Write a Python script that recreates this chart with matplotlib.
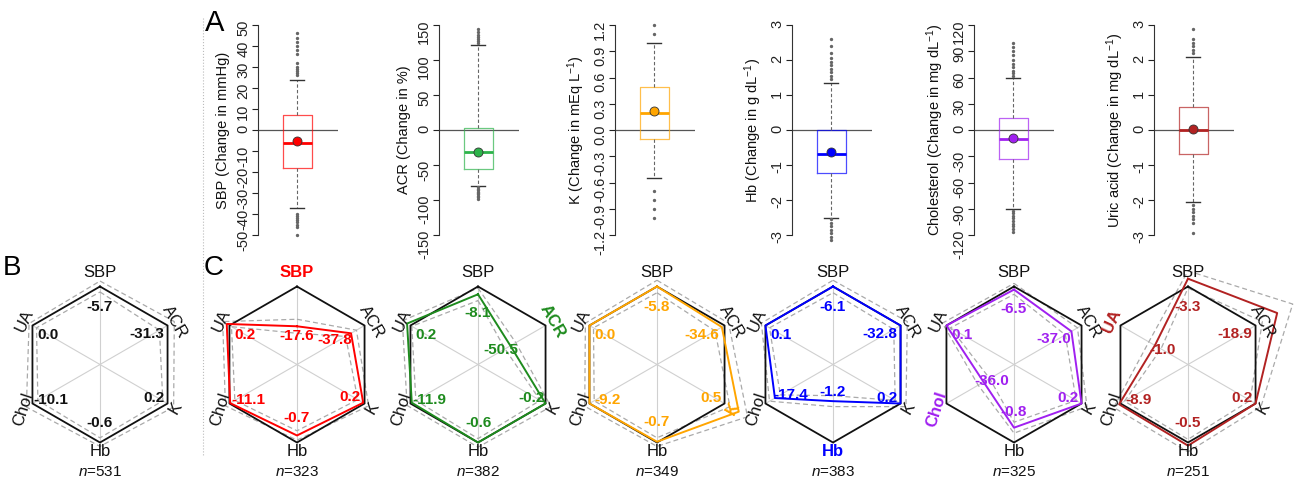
import numpy as np
import matplotlib
matplotlib.use('Agg')
import matplotlib.pyplot as plt
from matplotlib.lines import Line2D

plt.rcParams['font.family'] = ['Liberation Sans', 'DejaVu Sans']
plt.rcParams['mathtext.fontset'] = 'custom'
plt.rcParams['mathtext.rm'] = 'Liberation Sans'
plt.rcParams['mathtext.it'] = 'Liberation Sans:italic'
plt.rcParams['mathtext.bf'] = 'Liberation Sans:bold'
plt.rcParams['mathtext.default'] = 'regular'

# ------------------------- data -------------------------
variables = ['SBP', 'ACR', 'K', 'Hb', 'Chol', 'UA']
box_ylabels = ['SBP (Change in mmHg)', 'ACR (Change in %)',
               r'K (Change in mEq L$^{-1}$)', r'Hb (Change in g dL$^{-1}$)',
               r'Cholesterol (Change in mg dL$^{-1}$)', r'Uric acid (Change in mg dL$^{-1}$)']
box_colors = ['#FF0000', '#2DB34A', '#FFA500', '#0000FF', '#A020F0', '#B22222']
radar_colors = ['#FF0000', '#1E8B1E', '#FFA500', '#0000FF', '#A020F0', '#B22222']

box_q1 = [-18, -55, -0.10, -1.22, -33, -0.69]
box_med = [-6, -31, 0.20, -0.69, -10, 0.00]
box_q3 = [7, 3, 0.49, 0.00, 14, 0.67]
box_whislo = [-37, -80, -0.55, -2.50, -90, -2.06]
box_whishi = [24, 122, 1.00, 1.34, 59, 2.08]
box_mean = [-5.3, -31, 0.22, -0.63, -9.5, 0.03]
fliers_sbp = [26, 27, 28, 29, 30, 32, 36, 38, 40, 42, 44, 46,
              -40, -41, -42, -43, -44, -45, -46, -50]
fliers_acr = [124, 127, 130, 133, 136, 140, 145,
              -82, -84, -86, -88, -90, -92, -94, -96, -98]
fliers_k = [1.1, 1.2, -0.7, -0.8, -0.9, -1.0]
fliers_hb = [1.45, 1.55, 1.65, 1.75, 1.85, 1.95, 2.05, 2.2, 2.4, 2.6,
             -2.55, -2.65, -2.75, -2.85, -2.95, -3.05, -3.15]
fliers_chol = [62, 65, 68, 72, 76, 80, 86, 90, 95, 100,
               -92, -95, -98, -101, -104, -107, -110, -113, -116]
fliers_ua = [2.2, 2.3, 2.4, 2.5, 2.6, 2.9,
             -2.15, -2.25, -2.35, -2.45, -2.55, -2.65, -2.95]
box_fliers = [fliers_sbp, fliers_acr, fliers_k, fliers_hb, fliers_chol, fliers_ua]
box_ticks = [np.arange(-50, 51, 10), np.arange(-150, 151, 50), np.round(np.arange(-1.2, 1.21, 0.3), 1),
             np.arange(-3, 4, 1), np.arange(-120, 121, 30), np.arange(-3, 4, 1)]
box_tickfmt = ['{:.0f}', '{:.0f}', '{:.1f}', '{:.0f}', '{:.0f}', '{:.0f}']

# radar panels: B (all) then C panels (one per highlighted variable)
radar_n = [531, 323, 382, 349, 383, 325, 251]
radar_focus = [None, 0, 1, 2, 3, 4, 5]
values_all = [-5.7, -31.3, 0.2, -0.6, -10.1, 0.0]
values_sbp = [-17.6, -37.8, 0.2, -0.7, -11.1, 0.2]
values_acr = [-8.1, -50.5, -0.2, -0.6, -11.9, 0.2]
values_k = [-5.8, -34.6, 0.5, -0.7, -9.2, 0.0]
values_hb = [-6.1, -32.8, 0.2, -1.2, -17.4, 0.1]
values_chol = [-6.5, -37.0, 0.2, -0.8, -36.0, 0.1]
values_ua = [-3.3, -18.9, 0.2, -0.5, -8.9, -1.0]
radar_values = [values_all, values_sbp, values_acr, values_k, values_hb, values_chol, values_ua]

# relative radius of each group's polygon (1 = overall mean hexagon)
radius_all = [1, 1, 1, 1, 1, 1]
radius_sbp = [0.49, 0.80, 0.98, 0.91, 0.99, 1.04]
radius_acr = [0.90, 0.48, 1.00, 1.00, 0.98, 1.05]
radius_k = [1.00, 0.96, 1.21, 0.99, 1.00, 1.00]
radius_hb = [1.00, 1.00, 1.00, 0.47, 0.86, 1.00]
radius_chol = [0.96, 0.85, 1.00, 0.81, 0.45, 1.00]
radius_ua = [1.10, 1.32, 1.00, 1.04, 1.02, 0.49]
radar_radius = [radius_all, radius_sbp, radius_acr, radius_k, radius_hb, radius_chol, radius_ua]

# dashed confidence bounds (relative radius)
lo_all = [0.93, 0.88, 0.93, 0.94, 0.92, 0.94]
hi_all = [1.07, 1.10, 1.09, 1.05, 1.09, 1.05]
lo_sbp = [0.40, 0.72, 0.90, 0.85, 0.92, 0.97]
hi_sbp = [0.58, 0.88, 1.06, 0.97, 1.06, 1.10]
lo_acr = [0.82, 0.40, 0.92, 0.95, 0.92, 0.98]
hi_acr = [0.98, 0.56, 1.08, 1.06, 1.05, 1.12]
lo_k = [0.92, 0.86, 1.08, 0.94, 0.93, 0.94]
hi_k = [1.08, 1.06, 1.34, 1.05, 1.07, 1.06]
lo_hb = [0.92, 0.90, 0.92, 0.40, 0.78, 0.94]
hi_hb = [1.08, 1.10, 1.08, 0.54, 0.94, 1.06]
lo_chol = [0.90, 0.76, 0.92, 0.74, 0.36, 0.94]
hi_chol = [1.04, 0.94, 1.08, 0.88, 0.53, 1.06]
lo_ua = [0.98, 1.10, 0.92, 0.96, 0.94, 0.40]
hi_ua = [1.20, 1.55, 1.08, 1.12, 1.10, 0.58]
radar_lo = [lo_all, lo_sbp, lo_acr, lo_k, lo_hb, lo_chol, lo_ua]
radar_hi = [hi_all, hi_sbp, hi_acr, hi_k, hi_hb, hi_chol, hi_ua]

# ------------------------- layout -------------------------
W, H = 1296, 483
fig = plt.figure(figsize=(W / 100, H / 100), dpi=100)

box_left_px = [258, 439, 615, 792, 974, 1154]
box_w_px = 80
box_top_px, box_bot_px = 25, 235

for i in range(6):
    ax = fig.add_axes([box_left_px[i] / W, 1 - box_bot_px / H, box_w_px / W, (box_bot_px - box_top_px) / H])
    col = box_colors[i]
    stats = [dict(med=box_med[i], q1=box_q1[i], q3=box_q3[i], whislo=box_whislo[i],
                  whishi=box_whishi[i], mean=box_mean[i], fliers=box_fliers[i])]
    ax.bxp(stats, positions=[0.98], widths=0.72, capwidths=0.34, showmeans=True,
           boxprops=dict(color=col, lw=0.9, alpha=0.7),
           medianprops=dict(color=col, lw=2.0),
           whiskerprops=dict(color='#666666', lw=0.8, ls=(0, (3, 2))),
           capprops=dict(color='#333333', lw=1.0),
           meanprops=dict(marker='o', markerfacecolor=col, markeredgecolor='#333333',
                          markeredgewidth=0.6, markersize=6.5),
           flierprops=dict(marker='o', markerfacecolor='#666666', markeredgecolor='#666666',
                           markersize=1.4, clip_on=False))
    ticks = box_ticks[i]
    ax.set_xlim(0, 2)
    ax.set_ylim(ticks[0], ticks[-1])
    ax.axhline(0, color='#555555', lw=0.9, zorder=0)
    ax.set_yticks(ticks)
    ax.set_yticklabels([box_tickfmt[i].format(t) for t in ticks])
    ax.tick_params(axis='y', labelrotation=90, labelsize=10.5, length=4, width=0.8,
                   colors='#222222', pad=1.5)
    ax.set_xticks([])
    for s in ['top', 'right', 'bottom']:
        ax.spines[s].set_visible(False)
    ax.spines['left'].set_bounds(ticks[0], ticks[-1])
    ax.spines['left'].set_color('#333333')
    ax.spines['left'].set_linewidth(0.8)
    ax.set_ylabel(box_ylabels[i], fontsize=10.5, color='#111111')
    ax.yaxis.set_label_coords(-0.35, 0.5)

# radar charts
R_PX = 78.0
cy_px = 364.5
centers_px = [100, 297, 478, 657, 833, 1014, 1188]
ax_w_px = 176
top_px = 236
angles = np.deg2rad([90, 30, -30, -90, -150, 150])
label_rot = [0, -60, 60, 0, 72, 65]
label_r = [1.18, 1.1, 1.12, 1.11, 1.14, 1.12]
value_base = [(0, 0.74), (0.60, 0.39), (0.69, -0.43), (0, -0.75), (-0.63, -0.46), (-0.67, 0.38)]

def closed(r):
    r = np.asarray(r, dtype=float)
    x = r * np.cos(angles)
    y = r * np.sin(angles)
    return np.append(x, x[0]), np.append(y, y[0])

for k, cx in enumerate(centers_px):
    ax = fig.add_axes([(cx - ax_w_px / 2) / W, 0, ax_w_px / W, (H - top_px) / H])
    ax.set_xlim(-ax_w_px / 2 / R_PX, ax_w_px / 2 / R_PX)
    ax.set_ylim(-(H - cy_px) / R_PX, (cy_px - top_px) / R_PX)
    ax.axis('off')
    for a in angles:
        ax.plot([0, np.cos(a)], [0, np.sin(a)], color='#D0D0D0', lw=0.8, zorder=1)
    for bnd in (radar_lo[k], radar_hi[k]):
        xs, ys = closed(bnd)
        ax.plot(xs, ys, color='#AAAAAA', lw=0.9, ls=(0, (4, 2.5)), zorder=2, clip_on=False)
    xs, ys = closed(np.ones(6))
    ax.plot(xs, ys, color='#111111', lw=1.3, zorder=3, clip_on=False)
    f = radar_focus[k]
    if f is not None:
        col = radar_colors[f]
        xs, ys = closed(radar_radius[k])
        ax.plot(xs, ys, color=col, lw=1.4, zorder=4, clip_on=False)
    else:
        col = '#111111'
    for j in range(6):
        focus = (f == j)
        lx = label_r[j] * np.cos(angles[j])
        ly = label_r[j] * np.sin(angles[j])
        ax.text(lx, ly, variables[j], fontsize=12,
                rotation=label_rot[j], rotation_mode='anchor', ha='center', va='center',
                color=radar_colors[j] if focus else '#111111',
                fontweight='bold' if focus else 'normal', zorder=6)
        s = min(radar_radius[k][j], 1.0)
        ax.text(value_base[j][0] * s, value_base[j][1] * s, '{:.1f}'.format(radar_values[k][j]),
                fontsize=11, fontweight='bold', color=col, ha='center', va='center', zorder=7)
    ax.text(0, -(472 - cy_px) / R_PX, r'$\mathit{n}$=' + str(radar_n[k]), fontsize=11,
            ha='center', va='center', color='#111111')

# panel letters and separator
fig.text(205 / W, 1 - 23 / H, 'A', fontsize=21, ha='left', va='center')
fig.text(3 / W, 1 - 268 / H, 'B', fontsize=20, ha='left', va='center')
fig.text(204 / W, 1 - 268 / H, 'C', fontsize=20, ha='left', va='center')
fig.add_artist(Line2D([203 / W, 203 / W], [1 - 18 / H, 1 - 455 / H], ls=':', color='#BBBBBB', lw=0.8))

fig.savefig('out.png', dpi=100)
